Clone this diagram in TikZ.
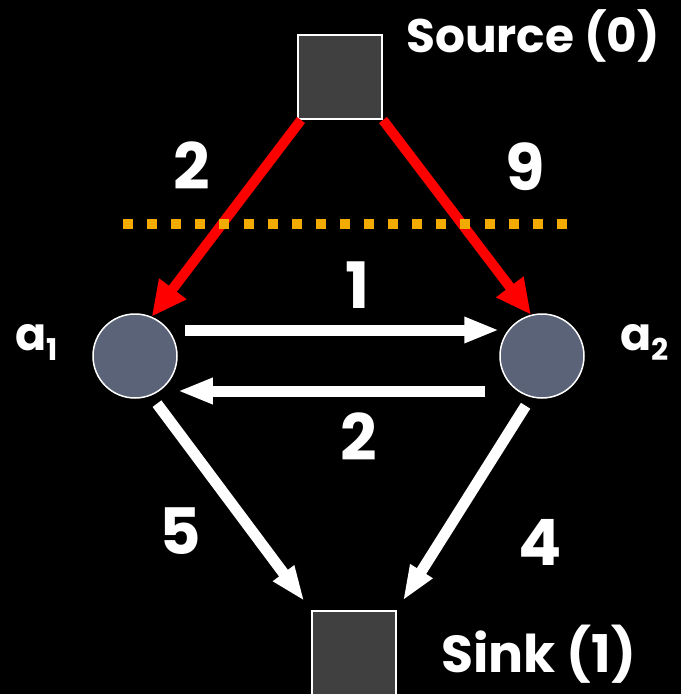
\documentclass[tikz,border=0pt]{standalone}
\usepackage{fontspec}
\setmainfont{Poppins}
\usetikzlibrary{arrows.meta, positioning}
\definecolor{cnode}{HTML}{5B6378}
\definecolor{cterm}{HTML}{404040}
\definecolor{cred}{HTML}{FF0000}
\definecolor{cgold}{HTML}{F2AB00}
\tikzset{
  every picture/.style={font=\bfseries},
  term/.style={draw=white, fill=cterm, line width=2pt, minimum size=84pt, inner sep=0pt},
  vert/.style={circle, draw=white, fill=cnode, line width=1.5pt, minimum size=84pt, inner sep=0pt},
  flow/.style={-{Triangle[length=35pt, width=24pt]}, draw=white, line width=11pt},
  cutflow/.style={-{Triangle[length=35pt, width=32pt]}, draw=cred, line width=10pt},
  cut/.style={draw=cgold, line width=10pt, dash pattern=on 10pt off 14.1pt},
  num/.style={text=white, font=\bfseries\fontsize{64}{64}\selectfont},
  lbl/.style={text=white, font=\bfseries\fontsize{52}{52}\selectfont, anchor=base west, inner sep=0pt},
}

\begin{document}
\begin{tikzpicture}[x=1pt, y=-1pt, sublbl/.style={lbl, font=\bfseries\fontsize{46}{46}\selectfont}]
  \fill[black] (0, 0) rectangle (681, 694);
  \useasboundingbox (0, 0) rectangle (681, 694);
  \node[term] (src) at (340, 77) {};
  \node[term] (snk) at (354, 653) {};
  \node[vert] (a1) at (135, 356) {};
  \node[vert] (a2) at (542, 356) {};
  \node[lbl, font=\bfseries\fontsize{47}{47}\selectfont] (srclbl) at (406, 52) {Source (0)};
  \node[lbl] (snklbl) at (441, 672) {Sink (1)};
  \node[sublbl] (a1lbl) at (15, 350) {a\raisebox{-10pt}{\fontsize{30}{30}\selectfont 1}};
  \node[sublbl] (a2lbl) at (620, 350) {a\raisebox{-10pt}{\fontsize{30}{30}\selectfont 2}};
  % capacities
  \node[num] (c1) at (192, 166) {2};
  \node[num] (c2) at (525, 167) {9};
  \node[num] (c3) at (358, 285) {1};
  \node[num] (c4) at (359, 437) {2};
  \node[num] (c5) at (180, 531) {5};
  \node[num] (c6) at (540, 542) {4};
  \draw[cutflow] ([xshift=4pt]src.south west) -- (a1.67); \draw[cutflow] (src.south east) -- (a2.105);
  \draw[flow] ([xshift=7pt, yshift=26pt]a1.east) -- ([yshift=26pt]a2.west);
  \draw[flow] ([xshift=-14pt, yshift=-35pt]a2.west) -- ([yshift=-35pt]a1.east);
  \draw[flow, shorten <=10pt, shorten >=11pt] (a1.-68) -- (snk.north west);
  \draw[flow, shorten <=10pt, shorten >=11pt] (a2.-105) -- (snk.north east);
  % the cut
  \coordinate (cutl) at (123, 224); \coordinate (cutr) at (567, 224);
  \draw[cut] (cutl) -- (cutr);
\end{tikzpicture}
\end{document}
